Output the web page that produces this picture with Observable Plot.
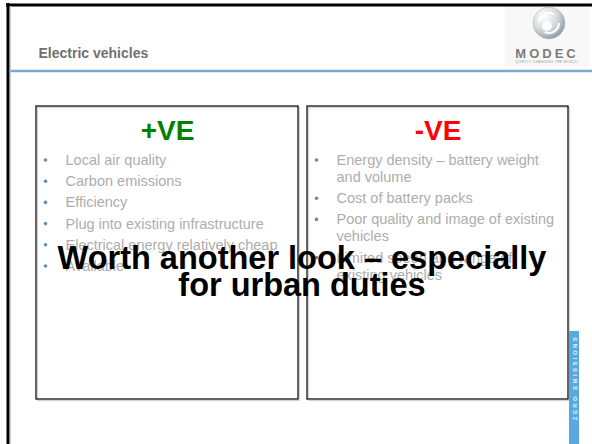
<!DOCTYPE html>
<html><head><meta charset="utf-8">
<script src="https://cdn.jsdelivr.net/npm/d3@7"></script>
<script src="https://cdn.jsdelivr.net/npm/@observablehq/plot@0.6"></script>
<style>html,body{margin:0;padding:0;background:#fff;} svg{display:block;}</style>
</head><body><div id="chart"></div>
<script>
// ---- content ----
const slideTitle = "Electric vehicles";
const logoName = "MODEC";
const logoTagline = "QUIETLY CHANGING THE WORLD";
const panelHeadings = ["+VE", "-VE"];
const positives = ["Local air quality", "Carbon emissions", "Efficiency", "Plug into existing infrastructure", "Electrical energy relatively cheap", "Available"];
const negatives = ["Energy density – battery weight\nand volume", "Cost of battery packs", "Poor quality and image of existing\nvehicles", "Limited speed and range of\nexisting vehicles"];
const headline = ["Worth another look – especially", "for urban duties"];
const sideBanner = "ZERO EMISSIONS";

// ---- layout (pixels) ----
const W = 592, H = 444;
const panelLeft = [36, 307], panelRight = [298, 568], panelTop = 106, panelBottom = 399;
const headingColors = ["#008000", "#ff0000"];
const firstBaseline = 164.5, lineStep = 17, itemGap = 4.2;

const panels = panelHeadings.map((h, i) => ({heading: h, items: i === 0 ? positives : negatives, x1: panelLeft[i], x2: panelRight[i], color: headingColors[i]}));

const lineRows = [], bulletRows = [];
panels.forEach(p => {
  let y = firstBaseline;
  p.items.forEach(item => {
    item.split("\n").forEach((ln, k) => {
      if (k === 0) bulletRows.push({x: p.x1 + 9, y: y - 5});
      lineRows.push({x: p.x1 + 29, y, text: ln});
      y += lineStep;
    });
    y += itemGap;
  });
});
const headlineRows = headline.map((t, i) => ({x: 301.5, y: 268 + i * 27, text: t}));

const plot = Plot.plot({
  width: W, height: H, margin: 0,
  x: {domain: [0, W], range: [0, W], axis: null},
  y: {domain: [0, H], range: [0, H], axis: null},
  color: {type: "identity"},
  style: {fontFamily: "'Liberation Sans', Arial, Helvetica, sans-serif", background: "#fff"},
  marks: [
    // slide frame
    Plot.ruleX([{x: 7.5, y1: 3, y2: H}], {x: "x", y1: "y1", y2: "y2", stroke: "#000", strokeWidth: 3}),
    Plot.ruleY([{y: 4.6, x1: 6, x2: W}], {y: "y", x1: "x1", x2: "x2", stroke: "#000", strokeWidth: 3}),
    Plot.ruleX([{x: 10, y1: 6, y2: H}], {x: "x", y1: "y1", y2: "y2", stroke: "#d0d0d0", strokeWidth: 1}),
    // logo area
    Plot.rect([{x1: 505, x2: 590, y1: 7, y2: 67}], {x1: "x1", x2: "x2", y1: "y1", y2: "y2", fill: "#f8f8f8"}),
    Plot.dot([{x: 548.5, y: 22.5}], {x: "x", y: "y", r: 16, fill: "url(#globeGrad)", stroke: "#b9c0c5", strokeWidth: 0.6}),
    Plot.dot([{x: 548.5, y: 22.5}], {x: "x", y: "y", r: 10, fill: "none", stroke: "#ffffff", strokeWidth: 2.2, strokeDasharray: "20 12"}),
    Plot.dot([{x: 546.5, y: 25.5}], {x: "x", y: "y", r: 5, fill: "#ffffff", fillOpacity: 0.85}),
    Plot.text([logoName], {x: () => 546.5, y: () => 57, text: d => d, lineAnchor: "bottom", fontSize: 13, fontWeight: "bold", fill: "#7b7b7b"}),
    Plot.text([logoTagline], {x: () => 546, y: () => 62.5, text: d => d, lineAnchor: "bottom", fontSize: 3.4, fill: "#999"}),
    // title and rule
    Plot.text([slideTitle], {x: () => 38, y: () => 57.3, text: d => d, textAnchor: "start", lineAnchor: "bottom", fontSize: 14, fontWeight: "bold", fill: "#707070"}),
    Plot.ruleY([{y: 70.5, x1: 9, x2: W}], {y: "y", x1: "x1", x2: "x2", stroke: "#80a8cc", strokeWidth: 2.6}),
    // panels
    Plot.rect(panels, {x1: d => d.x1 + 1.5, x2: d => d.x2 + 1.5, y1: () => panelTop + 1.5, y2: () => panelBottom + 1.5, fill: "none", stroke: "#d2d2d2", strokeWidth: 1.2}),
    Plot.rect(panels, {x1: "x1", x2: "x2", y1: () => panelTop, y2: () => panelBottom, fill: "none", stroke: "#111", strokeWidth: 1.3}),
    Plot.text(panels, {x: d => (d.x1 + d.x2) / 2, y: () => 139, text: "heading", fill: "color", lineAnchor: "bottom", fontSize: 28, fontWeight: "bold"}),
    Plot.dot(bulletRows, {x: "x", y: "y", r: 1.8, fill: "#5b8fc0"}),
    Plot.text(lineRows, {x: "x", y: "y", text: "text", textAnchor: "start", lineAnchor: "bottom", fontSize: 14.5, fill: "#adadad"}),
    // overlay headline
    Plot.text(headlineRows, {x: "x", y: "y", text: "text", lineAnchor: "bottom", fontSize: 32.5, fontWeight: "bold", fill: "#000"}),
    // side banner
    Plot.rect([{x1: 569, x2: 579, y1: 331, y2: H}], {x1: "x1", x2: "x2", y1: "y1", y2: "y2", fill: "#58a9df"}),
    Plot.text([sideBanner], {x: () => 574.5, y: () => 377, text: d => d, rotate: -90, fontSize: 6, fontWeight: "bold", fill: "#e6f2fb"})
  ]
});

// gradient for the logo globe
const ns = "http://www.w3.org/2000/svg";
const defs = document.createElementNS(ns, "defs");
defs.innerHTML = '<radialGradient id="globeGrad" cx="35%" cy="30%" r="75%"><stop offset="0%" stop-color="#ffffff"/><stop offset="55%" stop-color="#d5dadd"/><stop offset="100%" stop-color="#8f989f"/></radialGradient>';
plot.insertBefore(defs, plot.firstChild);
d3.select(plot).selectAll("text").each(function () {
  if (this.textContent === sideBanner) this.setAttribute("letter-spacing", "2.4");
  if (this.textContent === logoName) this.setAttribute("letter-spacing", "3");
  if (this.textContent === logoTagline) this.setAttribute("letter-spacing", "0.3");
});
document.getElementById("chart").appendChild(plot);
</script>
</body></html>
